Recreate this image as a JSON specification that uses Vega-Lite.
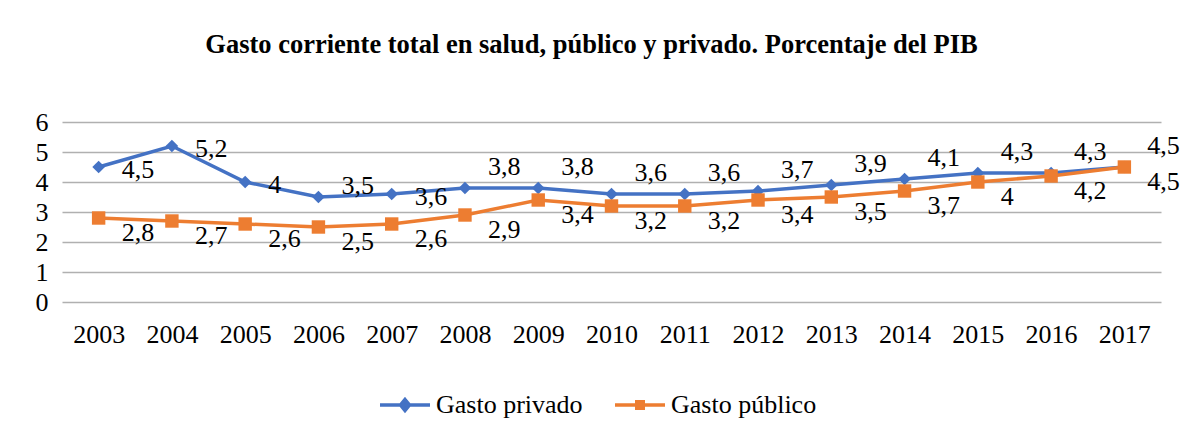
{
  "$schema": "https://vega.github.io/schema/vega-lite/v6.json",
  "width": 1099,
  "height": 180,
  "autosize": {"type": "none"},
  "padding": {"left": 62, "top": 122, "right": 21, "bottom": 133},
  "background": "white",
  "title": {
    "text": "Gasto corriente total en salud, público y privado. Porcentaje del PIB",
    "font": "Liberation Serif",
    "fontSize": 26.5,
    "fontWeight": "bold",
    "color": "black",
    "anchor": "middle",
    "frame": "group",
    "offset": 51,
    "dx": -20
  },
  "config": {
    "font": "Liberation Serif",
    "view": {"stroke": null},
    "text": {"font": "Liberation Serif"},
    "locale": {"number": {"decimal": ",", "thousands": ".", "grouping": [3], "currency": ["", " €"]}},
    "axis": {
      "labelFont": "Liberation Serif",
      "labelFontSize": 26,
      "labelColor": "black",
      "domain": false,
      "ticks": false,
      "tickSize": 0,
      "title": null
    }
  },
  "data": {
    "values": [
      {"year": "2003", "series": "Gasto privado", "value": 4.5},
      {"year": "2004", "series": "Gasto privado", "value": 5.2},
      {"year": "2005", "series": "Gasto privado", "value": 4},
      {"year": "2006", "series": "Gasto privado", "value": 3.5},
      {"year": "2007", "series": "Gasto privado", "value": 3.6},
      {"year": "2008", "series": "Gasto privado", "value": 3.8},
      {"year": "2009", "series": "Gasto privado", "value": 3.8},
      {"year": "2010", "series": "Gasto privado", "value": 3.6},
      {"year": "2011", "series": "Gasto privado", "value": 3.6},
      {"year": "2012", "series": "Gasto privado", "value": 3.7},
      {"year": "2013", "series": "Gasto privado", "value": 3.9},
      {"year": "2014", "series": "Gasto privado", "value": 4.1},
      {"year": "2015", "series": "Gasto privado", "value": 4.3},
      {"year": "2016", "series": "Gasto privado", "value": 4.3},
      {"year": "2017", "series": "Gasto privado", "value": 4.5},
      {"year": "2003", "series": "Gasto público", "value": 2.8},
      {"year": "2004", "series": "Gasto público", "value": 2.7},
      {"year": "2005", "series": "Gasto público", "value": 2.6},
      {"year": "2006", "series": "Gasto público", "value": 2.5},
      {"year": "2007", "series": "Gasto público", "value": 2.6},
      {"year": "2008", "series": "Gasto público", "value": 2.9},
      {"year": "2009", "series": "Gasto público", "value": 3.4},
      {"year": "2010", "series": "Gasto público", "value": 3.2},
      {"year": "2011", "series": "Gasto público", "value": 3.2},
      {"year": "2012", "series": "Gasto público", "value": 3.4},
      {"year": "2013", "series": "Gasto público", "value": 3.5},
      {"year": "2014", "series": "Gasto público", "value": 3.7},
      {"year": "2015", "series": "Gasto público", "value": 4},
      {"year": "2016", "series": "Gasto público", "value": 4.2},
      {"year": "2017", "series": "Gasto público", "value": 4.5}
    ]
  },
  "encoding": {
    "x": {
      "field": "year",
      "type": "ordinal",
      "axis": {"labelAngle": 0, "labelPadding": 19, "grid": false}
    },
    "y": {
      "field": "value",
      "type": "quantitative",
      "scale": {"domain": [0, 6], "nice": false},
      "axis": {
        "values": [0, 1, 2, 3, 4, 5, 6],
        "grid": true,
        "gridColor": "#b0b0b0",
        "gridWidth": 1.5,
        "labelPadding": 14,
        "format": "d"
      }
    }
  },
  "layer": [
    {
      "mark": {"type": "line", "strokeWidth": 3.5},
      "encoding": {
        "color": {
          "field": "series",
          "type": "nominal",
          "scale": {"domain": ["Gasto privado", "Gasto público"], "range": ["#4472C4", "#ED7D31"]},
          "legend": {
            "title": null,
            "orient": "none",
            "direction": "horizontal",
            "legendX": 316,
            "legendY": 256,
            "labelFont": "Liberation Serif",
            "labelFontSize": 26,
            "labelColor": "black",
            "labelLimit": 400,
            "labelOffset": 4,
            "columnPadding": 25,
            "symbolSize": 2500,
            "symbolStrokeWidth": 3.5,
            "encode": {
              "symbols": {
                "update": {
                  "shape": {"signal": "datum.value === 'Gasto privado' ? 'M-1,0H1M0,-0.22L0.18,0L0,0.22L-0.18,0Z' : 'M-1,0H1M-0.13,-0.13H0.13V0.13H-0.13Z'"},
                  "size": {"value": 2500},
                  "strokeWidth": {"value": 3.5},
                  "stroke": {"signal": "datum.value === 'Gasto privado' ? '#4472C4' : '#ED7D31'"},
                  "fill": {"signal": "datum.value === 'Gasto privado' ? '#4472C4' : '#ED7D31'"},
                  "opacity": {"value": 1}
                }
              }
            }
          }
        }
      }
    },
    {
      "transform": [{"filter": "datum.series === 'Gasto privado'"}],
      "mark": {"type": "point", "filled": true, "shape": "diamond", "size": 160, "opacity": 1, "color": "#4472C4"}
    },
    {
      "transform": [{"filter": "datum.series === 'Gasto público'"}],
      "mark": {"type": "point", "filled": true, "shape": "square", "size": 180, "opacity": 1, "color": "#ED7D31"}
    },
    {
      "transform": [{"filter": "datum.series === 'Gasto privado' && datum.year <= '2007' && datum.year !== '2006'"}],
      "mark": {"type": "text", "align": "left", "baseline": "middle", "dx": 23, "dy": 3, "font": "Liberation Serif", "fontSize": 26, "color": "black"},
      "encoding": {"text": {"field": "value", "type": "quantitative", "format": "~g"}}
    },
    {
      "transform": [{"filter": "datum.series === 'Gasto privado' && datum.year === '2006'"}],
      "mark": {"type": "text", "align": "left", "baseline": "middle", "dx": 23, "dy": -11, "font": "Liberation Serif", "fontSize": 26, "color": "black"},
      "encoding": {"text": {"field": "value", "type": "quantitative", "format": "~g"}}
    },
    {
      "transform": [{"filter": "datum.series === 'Gasto privado' && datum.year > '2007'"}],
      "mark": {"type": "text", "align": "left", "baseline": "middle", "dx": 23, "dy": -21, "font": "Liberation Serif", "fontSize": 26, "color": "black"},
      "encoding": {"text": {"field": "value", "type": "quantitative", "format": "~g"}}
    },
    {
      "transform": [{"filter": "datum.series === 'Gasto público'"}],
      "mark": {"type": "text", "align": "left", "baseline": "middle", "dx": 23, "dy": 15, "font": "Liberation Serif", "fontSize": 26, "color": "black"},
      "encoding": {"text": {"field": "value", "type": "quantitative", "format": "~g"}}
    }
  ]
}
